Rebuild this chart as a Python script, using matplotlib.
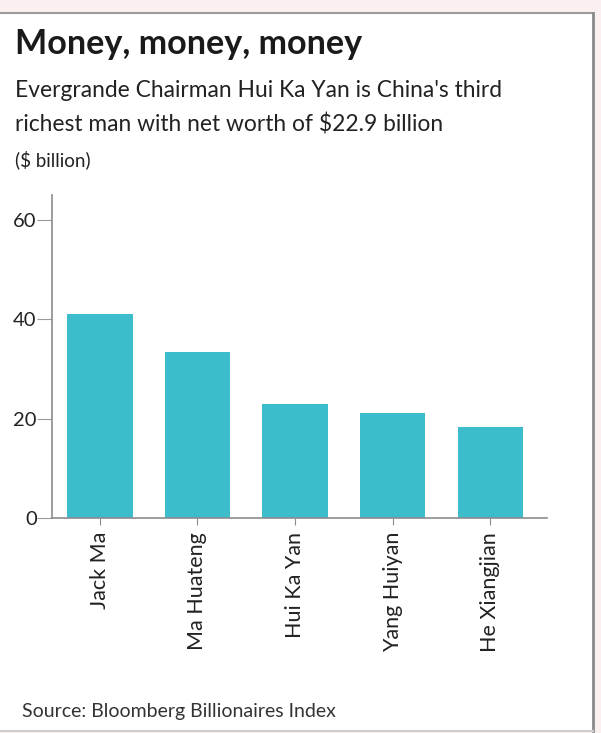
import matplotlib
matplotlib.use("Agg")
import matplotlib.pyplot as plt
from matplotlib.patches import Rectangle
from matplotlib.lines import Line2D

names = ["Jack Ma", "Ma Huateng", "Hui Ka Yan", "Yang Huiyan", "He Xiangjian"]
worth = [41.0, 33.4, 22.9, 21.2, 18.4]
yticks = [0, 20, 40, 60]

W, H = 601, 733
fig = plt.figure(figsize=(W / 100, H / 100), dpi=100)
fig.patch.set_facecolor("#fbf0f0")
plt.rcParams["font.family"] = ["Lato", "DejaVu Sans"]

def fx(px):
    return px / W

def fy(py):
    return 1 - py / H

# white panel with border
fig.patches.append(Rectangle((0, fy(731)), fx(593), fy(13) - fy(731), transform=fig.transFigure,
                             facecolor="white", edgecolor="none", zorder=-5))
fig.lines.append(Line2D([0, fx(593)], [fy(12.5), fy(12.5)], transform=fig.transFigure, color="#9a9a9a", lw=1.5, zorder=-4))
fig.lines.append(Line2D([fx(593), fx(593)], [fy(12.5), fy(731)], transform=fig.transFigure, color="#8a8a8a", lw=2, zorder=-4))
fig.lines.append(Line2D([0, fx(593)], [fy(731), fy(731)], transform=fig.transFigure, color="#cfcfcf", lw=1.5, zorder=-4))

ax = fig.add_axes([fx(52), fy(518), fx(547) - fx(52), fy(195) - fy(518)])
ax.set_zorder(2)
ax.set_facecolor("none")
x = list(range(len(names)))
ax.bar(x, worth, width=0.67, color="#3bbdcb", zorder=2)
ax.set_xlim(-0.49, 4.58)
ax.set_ylim(0, 65)
for s in ["top", "right"]:
    ax.spines[s].set_visible(False)
for s in ["left", "bottom"]:
    ax.spines[s].set_color("#8c8c8c")
    ax.spines[s].set_linewidth(1.2)
ax.set_yticks(yticks)
ax.set_yticklabels([str(v) for v in yticks])
ax.set_xticks(x)
ax.set_xticklabels(names, rotation=90, va="top", ha="center")
ax.tick_params(axis="y", length=11, width=0.8, color="#9a9a9a", pad=0, labelsize=14.5, labelcolor="#222222")
ax.tick_params(axis="x", length=5, width=0.8, color="#8c8c8c", pad=5, labelsize=15.5, labelcolor="#222222")

fig.text(fx(15), fy(54), "Money, money, money", fontsize=24.6, fontweight="bold", color="#1a1a1a", va="baseline")
fig.text(fx(15), fy(97), "Evergrande Chairman Hui Ka Yan is China's third", fontsize=16.4, color="#222222", va="baseline")
fig.text(fx(15), fy(132), "richest man with net worth of $22.9 billion", fontsize=16.4, color="#222222", va="baseline")
fig.text(fx(15), fy(166), "($ billion)", fontsize=13.5, color="#222222", va="baseline")
fig.text(fx(22), fy(717), "Source: Bloomberg Billionaires Index", fontsize=14, color="#333333", va="baseline")

fig.savefig("out.png", dpi=100, facecolor=fig.get_facecolor())
